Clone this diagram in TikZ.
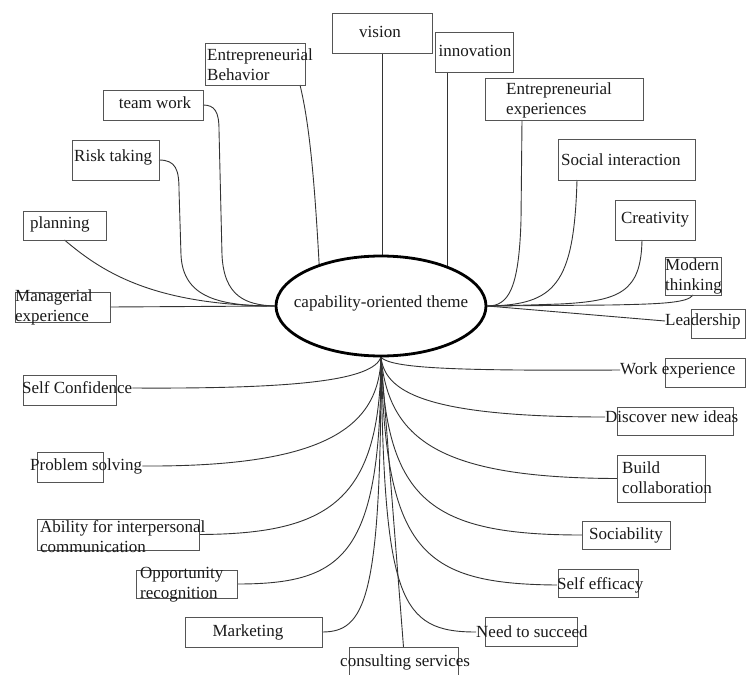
\documentclass[tikz,border=0pt]{standalone}
\usepackage{fontspec}
\setmainfont{Liberation Serif}
\usetikzlibrary{shapes.geometric,backgrounds,calc}
\definecolor{boxgray}{HTML}{555555}
\definecolor{linegray}{HTML}{333333}
\definecolor{txt}{HTML}{1A1A1A}
\tikzset{
  boxn/.style={draw=boxgray, line width=0.9pt, inner sep=0pt, outer sep=0pt},
  lbl/.style={font=\fontsize{17}{20}\selectfont, inner sep=0pt, text=txt, align=left},
  conn/.style={draw=linegray, line width=0.9pt},
  themen/.style={ellipse, draw=black, line width=2.8pt, fill=white, minimum width=210pt, minimum height=100pt, inner sep=0pt}
}
\begin{document}
\begin{tikzpicture}[x=1pt,y=-1pt]
\useasboundingbox (0,0) rectangle (746,674);

% central ellipse
\node[themen] (theme) at (381,306) {};
\node[lbl] (themeT) at (381,303) {capability-oriented theme};

% ---- top
\node[boxn, minimum width=100pt, minimum height=40pt] (visionB) at (382,33) {};
\node[lbl] (visionT) at (380,32) {vision};
\node[boxn, minimum width=78pt, minimum height=40pt] (innovB) at (474,52) {};
\node[lbl] (innovT) at (475,51) {innovation};
\node[boxn, minimum width=158pt, minimum height=42pt] (eexpB) at (564,99) {};
\node[lbl, anchor=west] (eexpT) at (506,100) {Entrepreneurial\\experiences};
\node[boxn, minimum width=137pt, minimum height=41pt] (socB) at (626.5,159.5) {};
\node[lbl, anchor=west] (socT) at (561,160) {Social interaction};
\node[boxn, minimum width=80pt, minimum height=40pt] (creaB) at (655,220) {};
\node[lbl] (creaT) at (655,220) {Creativity};
\node[boxn, minimum width=56pt, minimum height=38pt] (modtB) at (693,276) {};
\node[lbl, anchor=west] (modtT) at (665,276) {Modern\\thinking};
\node[boxn, minimum width=54pt, minimum height=29pt] (leadB) at (718,323.5) {};
\node[lbl, anchor=west] (leadT) at (665,321) {Leadership};

% ---- upper left
\node[boxn, minimum width=100pt, minimum height=42pt] (ebehB) at (255,64) {};
\node[lbl, anchor=west] (ebehT) at (207,65) {Entrepreneurial\\Behavior};
\node[boxn, minimum width=100pt, minimum height=30pt] (teamB) at (153,105) {};
\node[lbl] (teamT) at (155,103) {team work};
\node[boxn, minimum width=87pt, minimum height=40pt] (riskB) at (115.5,160) {};
\node[lbl, anchor=west] (riskT) at (74,157) {Risk taking};
\node[boxn, minimum width=83pt, minimum height=29pt] (planB) at (64.5,225.5) {};
\node[lbl, anchor=west] (planT) at (30,224) {planning};
\node[boxn, minimum width=95pt, minimum height=30pt] (mgrB) at (62.5,307) {};
\node[lbl, anchor=west] (mgrT) at (15,307) {Managerial\\experience};

% ---- lower left
\node[boxn, minimum width=93pt, minimum height=30pt] (sconfB) at (69.5,390) {};
\node[lbl, anchor=west] (sconfT) at (22,388) {Self Confidence};
\node[boxn, minimum width=66pt, minimum height=30pt] (probB) at (70,467) {};
\node[lbl, anchor=west] (probT) at (30,466) {Problem solving};
\node[boxn, minimum width=162pt, minimum height=31pt] (abilB) at (118,534.5) {};
\node[lbl, anchor=west] (abilT) at (40,537) {Ability for interpersonal\\communication};
\node[boxn, minimum width=101pt, minimum height=28pt] (oppB) at (186.5,584) {};
\node[lbl, anchor=west] (oppT) at (140,585) {Opportunity\\recognition};
\node[boxn, minimum width=137pt, minimum height=30pt] (mktB) at (253.5,632) {};
\node[lbl] (mktT) at (248,632) {Marketing};
\node[boxn, minimum width=109pt, minimum height=29pt] (consB) at (403.5,661.5) {};
\node[lbl, anchor=west] (consT) at (340,662) {consulting services};

% ---- lower right
\node[boxn, minimum width=80pt, minimum height=29pt] (wexpB) at (705,372.5) {};
\node[lbl, anchor=west] (wexpT) at (620,370) {Work experience};
\node[boxn, minimum width=116pt, minimum height=28pt] (discB) at (675,421) {};
\node[lbl, anchor=west] (discT) at (605,417) {Discover new ideas};
\node[boxn, minimum width=88pt, minimum height=47pt] (bcolB) at (661,478.5) {};
\node[lbl, anchor=west] (bcolT) at (622,478) {Build\\collaboration};
\node[boxn, minimum width=88pt, minimum height=28pt] (socbB) at (626,535) {};
\node[lbl] (socbT) at (626,535) {Sociability};
\node[boxn, minimum width=80pt, minimum height=28pt] (seffB) at (598,583) {};
\node[lbl, anchor=west] (seffT) at (557,585) {Self efficacy};
\node[boxn, minimum width=92pt, minimum height=29pt] (ntsB) at (531,631.5) {};
\node[lbl, anchor=west] (ntsT) at (476,632) {Need to succeed};

\begin{scope}[on background layer]
\fill[white] (0,0) rectangle (746,674);
% top verticals
\draw[conn] (visionB.south) -- (visionB.south |- theme.center);
\draw[conn] ([xshift=12pt]innovB.south west) coordinate (ia) -- (ia |- theme.center);
% upper right
\draw[conn] ([xshift=-42pt]eexpB.south) -- ++(-1,100) .. controls (519,290) and (508,306) .. (theme.east);
\draw[conn] ([xshift=-49.5pt]socB.south) .. controls (574,285) and (555,305) .. (theme.east);
\draw[conn] ([xshift=-13pt]creaB.south) .. controls (641,292) and (620,301) .. (560,304) .. controls (530,305) and (500,306) .. (theme.east);
\draw[conn] (modtB.south) .. controls (688,303) and (660,304) .. (610,305) -- (theme.east);
\draw[conn] (theme.east) -- (leadT.west);
% upper left
\draw[conn] ([xshift=-5pt]ebehB.south east) .. controls (311,130) and (316,200) .. ($(theme.center)+(-60,-6)$);
\draw[conn] (teamB.east) .. controls (215,105) and (219,112) .. (219,130) -- (222,255) .. controls (224,296) and (245,305) .. (theme.west);
\draw[conn] (riskB.east) .. controls (176,160) and (179,170) .. (179,190) -- (181,255) .. controls (183,298) and (220,306) .. (theme.west);
\draw[conn] (planB.south) .. controls (100,270) and (150,305) .. (theme.west);
\draw[conn] (mgrB.east) -- (theme.west);
% lower left
\draw[conn] (theme.south) .. controls (372,380) and (300,389) .. (sconfT.east);
\draw[conn] (theme.south) .. controls (379,430) and (320,467) .. (probT.east);
\draw[conn] (theme.south) .. controls (380,500) and (330,534) .. (abilB.east);
\draw[conn] (theme.south) .. controls (381,555) and (345,584) .. (oppB.east);
\draw[conn] (theme.south) .. controls (381,600) and (365,632) .. (mktB.east);
\draw[conn] (theme.south) -- (consB.north);
% lower right
\draw[conn] (theme.south) .. controls (384,600) and (400,632) .. (ntsT.west);
\draw[conn] (theme.south) .. controls (386,550) and (420,584) .. (seffT.west);
\draw[conn] (theme.south) .. controls (387,500) and (430,535) .. (socbB.west);
\draw[conn] (theme.south) .. controls (389,440) and (440,478) .. (bcolB.west);
\draw[conn] (theme.south) .. controls (385,390) and (420,417) .. (discT.west);
\draw[conn] (theme.south) .. controls (392,368) and (450,371) .. (wexpT.west);
\end{scope}
\end{tikzpicture}
\end{document}
